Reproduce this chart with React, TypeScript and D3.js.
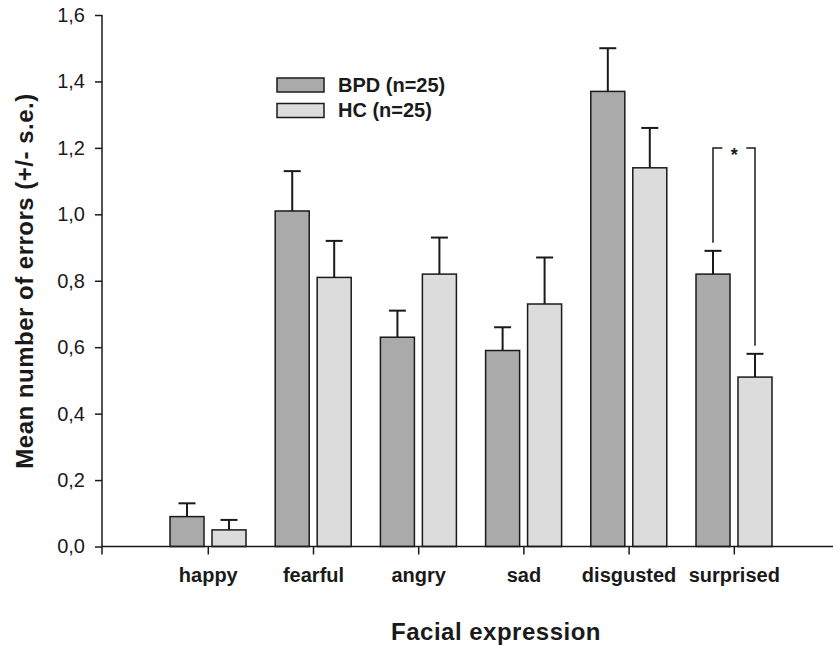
import React, { useEffect, useRef } from 'react';
import * as d3 from 'd3';

// data
const categories = ['happy', 'fearful', 'angry', 'sad', 'disgusted', 'surprised'];
const groups = ['BPD', 'HC'];
const groupLabels = ['BPD (n=25)', 'HC (n=25)'];
const bpdMean = [0.09, 1.01, 0.63, 0.59, 1.37, 0.82];
const bpdSe = [0.04, 0.12, 0.08, 0.07, 0.13, 0.07];
const hcMean = [0.05, 0.81, 0.82, 0.73, 1.14, 0.51];
const hcSe = [0.03, 0.11, 0.11, 0.14, 0.12, 0.07];
const yTicks = [0, 0.2, 0.4, 0.6, 0.8, 1.0, 1.2, 1.4, 1.6];
const sigCategory = 'surprised';
const sigLevel = 1.2;

const colors: Record<string, string> = { BPD: '#aaaaaa', HC: '#dcdcdc' };
const FONT = '"Liberation Sans", Arial, sans-serif';
const INK = '#1a1a1a';

const App: React.FC = () => {
  const svgRef = useRef<SVGSVGElement>(null);
  const width = 833;
  const height = 646;

  useEffect(() => {
    const svg = d3.select(svgRef.current);
    svg.selectAll('*').remove();

    const axisX = 102;
    const axisRight = 833;

    const y = d3.scaleLinear().domain([0, 1.6]).range([546.5, 15]);

    const x = d3.scaleBand<string>()
      .domain(categories)
      .range([155.7, 786.9])
      .padding(0);

    // bars inside a group, relative to the group centre
    const xSub = d3.scaleBand<string>()
      .domain(groups)
      .range([-38.3, 37.7])
      .paddingInner(0.19)
      .paddingOuter(0);

    const center = (c: string) => x(c)! + x.bandwidth() / 2;

    const rows = categories.flatMap((c, i) => [
      { cat: c, group: 'BPD', mean: bpdMean[i], se: bpdSe[i] },
      { cat: c, group: 'HC', mean: hcMean[i], se: hcSe[i] },
    ]);

    // y axis
    const yAxis = d3.axisLeft(y)
      .tickValues(yTicks)
      .tickSize(7)
      .tickSizeOuter(0)
      .tickPadding(10)
      .tickFormat(d => d3.format('.1f')(d as number).replace('.', ','));

    const gy = svg.append('g')
      .attr('transform', `translate(${axisX},0)`)
      .call(yAxis);
    gy.select('.domain').remove();
    gy.selectAll('line').attr('stroke', INK).attr('stroke-width', 1.5);
    gy.selectAll('text')
      .attr('fill', INK)
      .style('font-family', FONT)
      .style('font-size', '20px');

    svg.append('line')
      .attr('x1', axisX).attr('x2', axisX)
      .attr('y1', y(1.6)).attr('y2', y(0) + 8)
      .attr('stroke', INK).attr('stroke-width', 1.5);

    // bars
    svg.append('g')
      .selectAll('rect')
      .data(rows)
      .join('rect')
      .attr('x', d => center(d.cat) + xSub(d.group)!)
      .attr('y', d => y(d.mean))
      .attr('width', xSub.bandwidth())
      .attr('height', d => y(0) - y(d.mean))
      .attr('fill', d => colors[d.group])
      .attr('stroke', INK)
      .attr('stroke-width', 1.5);

    // error bars (upper only)
    const eb = svg.append('g').selectAll('g').data(rows).join('g');
    eb.append('line')
      .attr('x1', d => center(d.cat) + xSub(d.group)! + xSub.bandwidth() / 2)
      .attr('x2', d => center(d.cat) + xSub(d.group)! + xSub.bandwidth() / 2)
      .attr('y1', d => y(d.mean))
      .attr('y2', d => y(d.mean + d.se))
      .attr('stroke', INK).attr('stroke-width', 2);
    eb.append('line')
      .attr('x1', d => center(d.cat) + xSub(d.group)! + xSub.bandwidth() / 2 - 8.5)
      .attr('x2', d => center(d.cat) + xSub(d.group)! + xSub.bandwidth() / 2 + 8.5)
      .attr('y1', d => y(d.mean + d.se))
      .attr('y2', d => y(d.mean + d.se))
      .attr('stroke', INK).attr('stroke-width', 2);

    // x axis
    svg.append('line')
      .attr('x1', axisX).attr('x2', axisRight)
      .attr('y1', y(0)).attr('y2', y(0))
      .attr('stroke', INK).attr('stroke-width', 1.5);

    svg.append('g')
      .selectAll('line')
      .data(categories)
      .join('line')
      .attr('x1', d => center(d)).attr('x2', d => center(d))
      .attr('y1', y(0)).attr('y2', y(0) + 8)
      .attr('stroke', INK).attr('stroke-width', 1.5);

    svg.append('g')
      .selectAll('text')
      .data(categories)
      .join('text')
      .attr('x', d => center(d))
      .attr('y', y(0) + 35.5)
      .attr('text-anchor', 'middle')
      .attr('fill', INK)
      .style('font-family', FONT)
      .style('font-size', '20px')
      .style('font-weight', 'bold')
      .text(d => d);

    // significance bracket
    const si = categories.indexOf(sigCategory);
    const lx = center(sigCategory) + xSub('BPD')! + xSub.bandwidth() / 2;
    const rx = center(sigCategory) + xSub('HC')! + xSub.bandwidth() / 2;
    const topY = y(sigLevel);
    const gap = 12;
    const mid = center(sigCategory);
    const br = svg.append('g').attr('fill', 'none').attr('stroke', INK).attr('stroke-width', 1.5);
    br.append('path')
      .attr('d', `M${lx},${y(bpdMean[si] + bpdSe[si]) - 8}V${topY}H${mid - gap}`);
    br.append('path')
      .attr('d', `M${mid + gap},${topY}H${rx}V${y(hcMean[si] + hcSe[si]) - 8}`);
    svg.append('text')
      .attr('x', mid)
      .attr('y', topY + 13)
      .attr('text-anchor', 'middle')
      .attr('fill', INK)
      .style('font-family', FONT)
      .style('font-size', '18px')
      .style('font-weight', 'bold')
      .text('*');

    // legend
    const legend = svg.append('g');
    groups.forEach((gName, i) => {
      legend.append('rect')
        .attr('x', 277)
        .attr('y', 78 + i * 25.5)
        .attr('width', 47)
        .attr('height', 14)
        .attr('fill', colors[gName])
        .attr('stroke', INK)
        .attr('stroke-width', 1.5);
      legend.append('text')
        .attr('x', 338)
        .attr('y', 91.5 + i * 25.5)
        .attr('fill', INK)
        .style('font-family', FONT)
        .style('font-size', '20px')
        .style('font-weight', 'bold')
        .text(groupLabels[i]);
    });

    // axis titles
    svg.append('text')
      .attr('transform', 'translate(33,281) rotate(-90)')
      .attr('text-anchor', 'middle')
      .attr('fill', INK)
      .style('font-family', FONT)
      .style('font-size', '24px')
      .style('font-weight', 'bold')
      .style('letter-spacing', '0.5px')
      .text('Mean number of errors (+/- s.e.)');

    svg.append('text')
      .attr('x', 496)
      .attr('y', 640)
      .attr('text-anchor', 'middle')
      .attr('fill', INK)
      .style('font-family', FONT)
      .style('font-size', '24px')
      .style('font-weight', 'bold')
      .style('letter-spacing', '0.5px')
      .text('Facial expression');
  }, []);

  return (
    <svg
      ref={svgRef}
      width={width}
      height={height}
      style={{ position: 'absolute', left: 0, top: 0, background: '#fff' }}
    />
  );
};

export default App;
